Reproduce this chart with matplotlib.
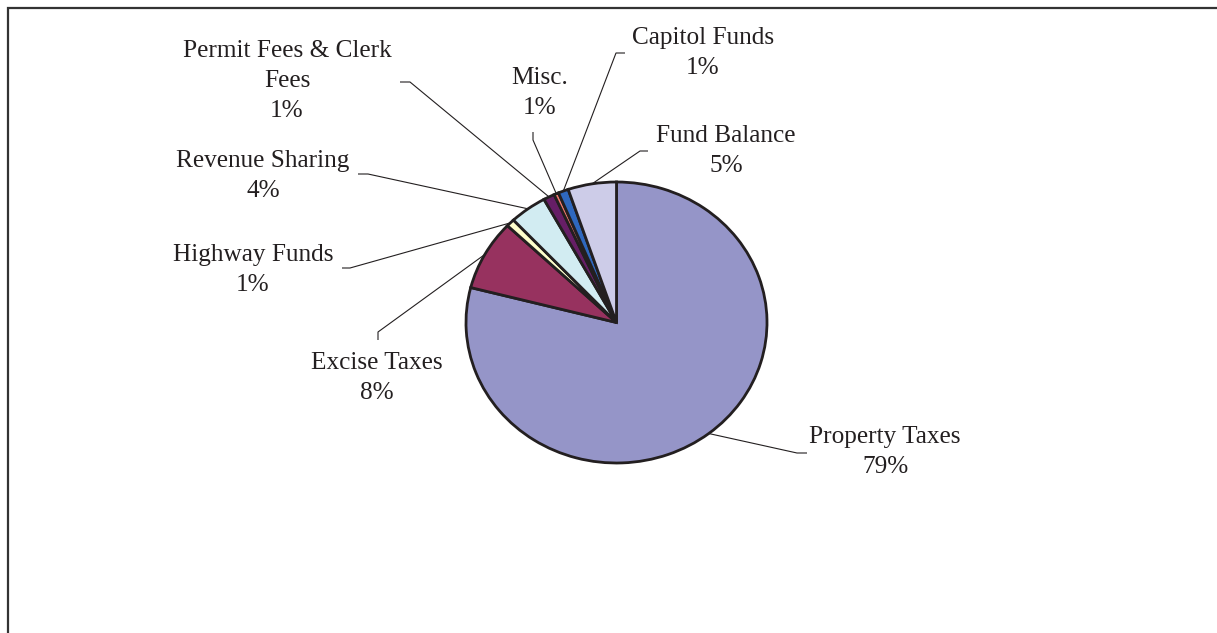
import math
import matplotlib
matplotlib.use("Agg")
import matplotlib.pyplot as plt
from matplotlib.patches import Rectangle

# ---- data ----
categories = ["Property Taxes", "Excise Taxes", "Highway Funds", "Revenue Sharing",
              "Permit Fees & Clerk\nFees", "Misc.", "Capitol Funds", "Fund Balance"]
values = [79.0, 8.1, 0.9, 4.0, 1.2, 0.5, 1.1, 5.2]
colors = ["#9595C8", "#97325F", "#FFFFCC", "#D2ECF2", "#661E66", "#F07A6E", "#2F68BE", "#CDCCE8"]

# ---- layout (pixels) ----
W, H = 1217, 633
cx, cy, rx, ry = 616.5, 322.5, 150.5, 140.5
# label centre, leader start, leader elbow
label_pos = [(885, 452), (377, 378), (253, 270), (263, 176), (287, 81), (540, 93), (703, 53), (726, 151)]
leader_start = [(807, 453), (378, 340), (342, 268), (358, 174), (400, 82), (533, 132), (625, 53), (648, 151)]
leader_elbow = [(797, 453), (378, 332), (350, 268), (368, 174), (410, 82), (533, 140), (616, 53), (640, 151)]

ink = "#231f20"
plt.rcParams["font.family"] = ["Liberation Serif", "DejaVu Serif"]

fig = plt.figure(figsize=(W / 100, H / 100), dpi=100)
ax = fig.add_axes([0, 0, 1, 1])


def px(x, y):
    return ((x - cx) / rx, (cy - y) / ry)


wedges, _ = ax.pie(values, colors=colors, startangle=90, counterclock=False, radius=1,
                   wedgeprops=dict(edgecolor=ink, linewidth=2.0))
ax.set_aspect("auto")
ax.set_xlim(-cx / rx, (W - cx) / rx)
ax.set_ylim((cy - H) / ry, cy / ry)
ax.axis("off")

total = sum(values)
for w, name, v, lp, ls, le in zip(wedges, categories, values, label_pos, leader_start, leader_elbow):
    pct = int(math.floor(v / total * 100 + 0.5))
    tx, ty = px(*lp)
    ax.text(tx, ty, f"{name}\n{pct}%", ha="center", va="center", fontsize=18.2,
            color=ink, linespacing=1.46, multialignment="center")
    ang = math.radians((w.theta1 + w.theta2) / 2)
    ex, ey = math.cos(ang), math.sin(ang)
    sx, sy = px(*ls)
    bx, by = px(*le)
    ax.plot([sx, bx, ex], [sy, by, ey], color=ink, linewidth=0.8, solid_capstyle="butt")

fig.add_artist(Rectangle((8 / W, -0.1), 1.2, 1 - 8 / H + 0.1, transform=fig.transFigure,
                         fill=False, edgecolor="#333333", linewidth=1.6))

fig.savefig("out.png", dpi=100, facecolor="white")
